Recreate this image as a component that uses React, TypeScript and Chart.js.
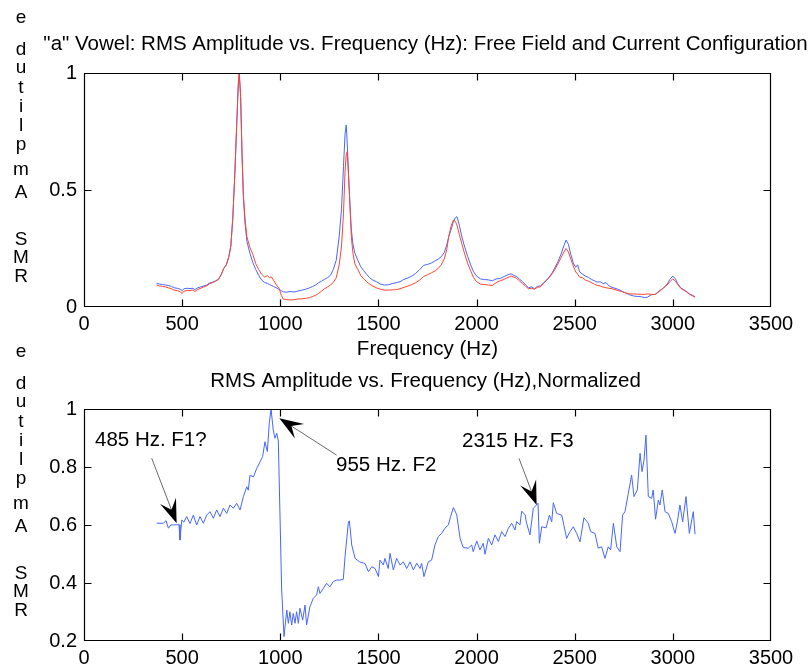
import React, { useEffect, useRef } from "react";
import { Chart, registerables } from "chart.js";

Chart.register(...registerables);

const FONT = "'Liberation Sans', Arial, Helvetica, sans-serif";
const BLUE = "#4666ff";
const RED = "#ff4430";

// ---- Upper panel: RMS amplitude spectra ----
const spectrumFreq = [
  370, 385, 400, 415, 430, 445, 460, 475, 490, 500,
  510, 525, 540, 555, 565, 580, 595, 610, 625, 640,
  655, 670, 685, 700, 712, 725, 738, 748, 758, 768,
  778, 786, 791, 798, 805, 812, 820, 830, 845, 860,
  875, 890, 905, 920, 935, 945, 955, 965, 980, 995,
  1005, 1015, 1030, 1050, 1070, 1090, 1110, 1130, 1150, 1165,
  1180, 1195, 1210, 1225, 1240, 1255, 1270, 1285, 1300, 1312,
  1322, 1330, 1336, 1341, 1348, 1355, 1362, 1370, 1380, 1395,
  1410, 1425, 1440, 1455, 1470, 1490, 1510, 1530, 1550, 1570,
  1590, 1610, 1630, 1650, 1670, 1690, 1710, 1730, 1750, 1770,
  1790, 1805, 1820, 1835, 1848, 1858, 1870, 1882, 1892, 1900,
  1912, 1925, 1940, 1955, 1970, 1985, 2000, 2020, 2040, 2060,
  2080, 2100, 2120, 2140, 2160, 2175, 2190, 2205, 2220, 2235,
  2250, 2265, 2280, 2295, 2310, 2325, 2340, 2355, 2370, 2385,
  2400, 2415, 2430, 2445, 2456, 2468, 2480, 2493, 2505, 2515,
  2525, 2540, 2555, 2570, 2585, 2600, 2615, 2630, 2645, 2660,
  2675, 2690, 2705, 2720, 2740, 2760, 2780, 2800, 2820, 2840,
  2855, 2870, 2890, 2910, 2930, 2950, 2970, 2985, 2999, 3012,
  3025, 3040, 3055, 3070, 3085, 3100, 3113,
];

const freeFieldRms = [
  0.101, 0.098, 0.096, 0.094, 0.092, 0.088, 0.082, 0.080, 0.076, 0.070,
  0.078, 0.080, 0.079, 0.080, 0.074, 0.082, 0.086, 0.090, 0.094, 0.103,
  0.106, 0.112, 0.118, 0.140, 0.165, 0.180, 0.215, 0.260, 0.380, 0.560,
  0.780, 0.950, 1.0, 0.900, 0.650, 0.470, 0.360, 0.280, 0.230, 0.190,
  0.160, 0.135, 0.115, 0.105, 0.100, 0.096, 0.092, 0.088, 0.082, 0.074,
  0.070, 0.065, 0.063, 0.066, 0.064, 0.068, 0.072, 0.076, 0.082, 0.088,
  0.094, 0.104, 0.110, 0.118, 0.125, 0.135, 0.160, 0.200, 0.300, 0.420,
  0.600, 0.740, 0.778, 0.700, 0.560, 0.440, 0.330, 0.270, 0.230, 0.200,
  0.172, 0.155, 0.140, 0.125, 0.116, 0.108, 0.098, 0.094, 0.095, 0.100,
  0.104, 0.108, 0.118, 0.124, 0.132, 0.144, 0.160, 0.178, 0.182, 0.188,
  0.198, 0.205, 0.215, 0.232, 0.265, 0.300, 0.330, 0.365, 0.382, 0.386,
  0.350, 0.300, 0.255, 0.215, 0.180, 0.150, 0.132, 0.120, 0.117, 0.116,
  0.112, 0.120, 0.122, 0.130, 0.138, 0.142, 0.135, 0.130, 0.118, 0.108,
  0.094, 0.082, 0.086, 0.078, 0.088, 0.090, 0.102, 0.114, 0.128, 0.146,
  0.170, 0.195, 0.225, 0.262, 0.286, 0.268, 0.225, 0.187, 0.170, 0.180,
  0.150, 0.140, 0.132, 0.126, 0.118, 0.112, 0.106, 0.108, 0.100, 0.104,
  0.090, 0.084, 0.080, 0.076, 0.068, 0.060, 0.052, 0.047, 0.045, 0.044,
  0.040, 0.042, 0.052, 0.054, 0.068, 0.080, 0.096, 0.118, 0.132, 0.122,
  0.100, 0.082, 0.074, 0.066, 0.056, 0.050, 0.044,
];

const currentConfigRms = [
  0.094, 0.090, 0.088, 0.086, 0.082, 0.078, 0.072, 0.070, 0.065, 0.058,
  0.068, 0.070, 0.070, 0.073, 0.066, 0.075, 0.080, 0.086, 0.090, 0.100,
  0.104, 0.110, 0.118, 0.140, 0.165, 0.180, 0.215, 0.260, 0.380, 0.560,
  0.780, 0.950, 1.0, 0.900, 0.660, 0.480, 0.380, 0.300, 0.255, 0.225,
  0.185, 0.160, 0.140, 0.128, 0.134, 0.126, 0.128, 0.115, 0.095, 0.078,
  0.050, 0.034, 0.032, 0.030, 0.031, 0.034, 0.035, 0.037, 0.040, 0.045,
  0.050, 0.058, 0.068, 0.078, 0.085, 0.094, 0.105, 0.125, 0.180, 0.260,
  0.400, 0.580, 0.650, 0.664, 0.560, 0.430, 0.300, 0.230, 0.185, 0.160,
  0.135, 0.120, 0.108, 0.098, 0.090, 0.082, 0.076, 0.072, 0.072, 0.073,
  0.074, 0.078, 0.084, 0.090, 0.096, 0.104, 0.115, 0.130, 0.138, 0.146,
  0.155, 0.165, 0.180, 0.205, 0.245, 0.300, 0.345, 0.372, 0.366, 0.350,
  0.310, 0.270, 0.225, 0.185, 0.155, 0.125, 0.108, 0.098, 0.096, 0.094,
  0.092, 0.104, 0.112, 0.118, 0.126, 0.132, 0.128, 0.122, 0.110, 0.100,
  0.088, 0.078, 0.080, 0.076, 0.084, 0.086, 0.100, 0.112, 0.126, 0.142,
  0.162, 0.185, 0.210, 0.235, 0.250, 0.235, 0.205, 0.175, 0.150, 0.140,
  0.128, 0.125, 0.115, 0.110, 0.104, 0.098, 0.092, 0.090, 0.085, 0.082,
  0.080, 0.078, 0.074, 0.070, 0.066, 0.060, 0.056, 0.056, 0.055, 0.054,
  0.054, 0.056, 0.054, 0.054, 0.066, 0.080, 0.094, 0.108, 0.120, 0.112,
  0.096, 0.080, 0.072, 0.064, 0.054, 0.048, 0.042,
];

// ---- Lower panel: normalized RMS amplitude ----
const normFreq = [
  370, 387, 404, 418, 430, 442, 455, 472, 484, 489,
  498, 509, 523, 540, 557, 574, 591, 608, 625, 642,
  659, 676, 693, 710, 727, 744, 761, 778, 795, 812,
  829, 837, 846, 863, 880, 897, 910, 922, 934, 944,
  953, 964, 973, 982, 990, 1007, 1019, 1033, 1041, 1049,
  1058, 1066, 1075, 1083, 1092, 1100, 1114, 1126, 1134, 1151,
  1168, 1185, 1194, 1202, 1219, 1236, 1253, 1270, 1287, 1304,
  1321, 1330, 1347, 1352, 1364, 1381, 1404, 1432, 1449, 1466,
  1483, 1500, 1508, 1525, 1533, 1550, 1559, 1576, 1593, 1610,
  1627, 1644, 1661, 1678, 1695, 1712, 1720, 1732, 1754, 1771,
  1788, 1805, 1822, 1839, 1856, 1868, 1882, 1899, 1916, 1932,
  1958, 1975, 1983, 2001, 2017, 2034, 2043, 2060, 2077, 2094,
  2111, 2128, 2145, 2162, 2179, 2196, 2204, 2221, 2230, 2247,
  2255, 2272, 2289, 2306, 2313, 2320, 2332, 2354, 2371, 2383,
  2391, 2408, 2434, 2459, 2476, 2493, 2510, 2527, 2547, 2569,
  2581, 2603, 2620, 2637, 2654, 2671, 2683, 2697, 2714, 2731,
  2744, 2756, 2773, 2790, 2802, 2819, 2833, 2843, 2853, 2863,
  2875, 2892, 2900, 2912, 2926, 2934, 2946, 2960, 2977, 2994,
  3011, 3023, 3036, 3050, 3067, 3084, 3104, 3113,
];

const normRms = [
  0.606, 0.606, 0.606, 0.615, 0.589, 0.600, 0.600, 0.601, 0.601, 0.548,
  0.617, 0.610, 0.629, 0.605, 0.634, 0.600, 0.629, 0.606, 0.634, 0.646,
  0.623, 0.652, 0.629, 0.658, 0.640, 0.669, 0.658, 0.675, 0.652, 0.698,
  0.732, 0.720, 0.772, 0.766, 0.795, 0.818, 0.836, 0.887, 0.853, 0.951,
  1.0, 0.928, 0.899, 0.916, 0.890, 0.376, 0.215, 0.307, 0.261, 0.301,
  0.255, 0.295, 0.261, 0.301, 0.261, 0.313, 0.272, 0.324, 0.255, 0.318,
  0.347, 0.359, 0.387, 0.364, 0.381, 0.399, 0.387, 0.405, 0.410, 0.410,
  0.413, 0.491, 0.611, 0.614, 0.531, 0.485, 0.473, 0.467, 0.439, 0.456,
  0.450, 0.422, 0.479, 0.462, 0.485, 0.450, 0.502, 0.445, 0.485, 0.462,
  0.473, 0.450, 0.473, 0.445, 0.468, 0.450, 0.468, 0.422, 0.473, 0.479,
  0.531, 0.560, 0.571, 0.589, 0.600, 0.630, 0.660, 0.635, 0.554, 0.522,
  0.520, 0.531, 0.508, 0.545, 0.514, 0.537, 0.499, 0.554, 0.531, 0.566,
  0.543, 0.577, 0.560, 0.589, 0.606, 0.583, 0.612, 0.600, 0.648, 0.635,
  0.606, 0.566, 0.658, 0.669, 0.675, 0.537, 0.594, 0.590, 0.634, 0.611,
  0.677, 0.640, 0.634, 0.554, 0.577, 0.594, 0.571, 0.542, 0.625, 0.606,
  0.577, 0.571, 0.520, 0.525, 0.485, 0.525, 0.514, 0.606, 0.525, 0.508,
  0.634, 0.646, 0.709, 0.772, 0.698, 0.721, 0.847, 0.784, 0.824, 0.910,
  0.698, 0.692, 0.721, 0.620, 0.686, 0.669, 0.721, 0.646, 0.640, 0.611,
  0.571, 0.611, 0.669, 0.611, 0.698, 0.571, 0.646, 0.568,
];

const xTicks = [0, 500, 1000, 1500, 2000, 2500, 3000, 3500];
const topYTicks = [0, 0.5, 1];
const bottomYTicks = [0.2, 0.4, 0.6, 0.8, 1];

const topTitle = '"a" Vowel: RMS Amplitude vs. Frequency (Hz): Free Field and Current Configuration';
const bottomTitle = "RMS Amplitude vs. Frequency (Hz),Normalized";
const yTitle = "RMS Amplitude";
const xTitle = "Frequency (Hz)";

const formantNotes = [
  { text: "485 Hz. F1?", at: [56, 0.893], tail: [345, 0.83], tip: [472, 0.606] },
  { text: "955 Hz. F2", at: [1284, 0.807], tail: [1287, 0.841], tip: [995, 0.968] },
  { text: "2315 Hz. F3", at: [1926, 0.89], tail: [2216, 0.83], tip: [2306, 0.669] },
];

// Boxed axes with inward tick marks on all four sides, plus the panel text.
const panelDecor = {
  id: "panelDecor",
  afterDraw(chart: any, _args: any, opts: any) {
    const { ctx, chartArea: a, scales } = chart;
    const xs = scales.x;
    const ys = scales.y;
    const L = Math.round(a.left) + 0.5;
    const R = Math.round(a.right) - 0.5;
    const T = Math.round(a.top) + 0.5;
    const B = Math.round(a.bottom) - 0.5;
    const tick = 7;
    ctx.save();
    ctx.strokeStyle = "#000";
    ctx.lineWidth = 1.2;
    ctx.beginPath();
    ctx.rect(L, T, R - L, B - T);
    for (const t of xs.ticks) {
      const px = Math.round(xs.getPixelForValue(t.value)) + 0.5;
      if (px <= L + 1 || px >= R - 1) continue;
      ctx.moveTo(px, B);
      ctx.lineTo(px, B - tick);
      ctx.moveTo(px, T);
      ctx.lineTo(px, T + tick);
    }
    for (const t of ys.ticks) {
      const py = Math.round(ys.getPixelForValue(t.value)) + 0.5;
      if (py <= T + 1 || py >= B - 1) continue;
      ctx.moveTo(L, py);
      ctx.lineTo(L + tick, py);
      ctx.moveTo(R, py);
      ctx.lineTo(R - tick, py);
    }
    ctx.stroke();

    // title
    ctx.fillStyle = "#000";
    ctx.font = `20.5px ${FONT}`;
    ctx.textAlign = "center";
    ctx.textBaseline = "middle";
    ctx.fillText(opts.title, (a.left + a.right) / 2 - 2, opts.titleY);

    // vertical label written as a stack of letters, read from bottom to top
    const letters = opts.yTitle.split("");
    const baselines = [209, 190, 172, 0, 125, 102, 77, 58, 39, 20, 0, -18, -50];
    ctx.font = `19px ${FONT}`;
    ctx.textBaseline = "alphabetic";
    letters.forEach((ch: string, i: number) => {
      if (ch === " ") return;
      ctx.fillText(ch, 21, a.top + baselines[i] + opts.stackShift);
    });

    // annotations with filled arrowheads
    if (opts.notes) {
      ctx.font = `20.5px ${FONT}`;
      ctx.textAlign = "left";
      ctx.textBaseline = "middle";
      for (const n of opts.notes) {
        ctx.fillStyle = "#000";
        ctx.fillText(n.text, xs.getPixelForValue(n.at[0]), ys.getPixelForValue(n.at[1]));
        const x0 = xs.getPixelForValue(n.tail[0]);
        const y0 = ys.getPixelForValue(n.tail[1]);
        const x1 = xs.getPixelForValue(n.tip[0]);
        const y1 = ys.getPixelForValue(n.tip[1]);
        const dx = x1 - x0;
        const dy = y1 - y0;
        const len = Math.hypot(dx, dy);
        const ux = dx / len;
        const uy = dy / len;
        const nx = -uy;
        const ny = ux;
        const head = 24;
        const half = 8.5;
        ctx.strokeStyle = "#444";
        ctx.lineWidth = 0.8;
        ctx.beginPath();
        ctx.moveTo(x0, y0);
        ctx.lineTo(x1 - ux * head * 0.6, y1 - uy * head * 0.6);
        ctx.stroke();
        ctx.beginPath();
        ctx.moveTo(x1, y1);
        ctx.lineTo(x1 - ux * head + nx * half, y1 - uy * head + ny * half);
        ctx.lineTo(x1 - ux * head * 0.6, y1 - uy * head * 0.6);
        ctx.lineTo(x1 - ux * head - nx * half, y1 - uy * head - ny * half);
        ctx.closePath();
        ctx.fill();
      }
    }
    ctx.restore();
  },
};

function makeAxes(yTicks: number[], yMin: number, yMax: number, xHeight: number, withXTitle: boolean) {
  const tickFont = { family: FONT, size: 20 };
  return {
    x: {
      type: "linear",
      min: 0,
      max: 3500,
      afterBuildTicks: (s: any) => {
        s.ticks = xTicks.map((v) => ({ value: v }));
      },
      afterFit: (s: any) => {
        s.height = xHeight;
      },
      grid: { display: false, drawTicks: false },
      border: { display: false },
      ticks: {
        font: tickFont,
        color: "#000",
        padding: 5,
        maxRotation: 0,
        autoSkip: false,
        callback: (v: any) => String(v),
      },
      title: {
        display: withXTitle,
        text: xTitle,
        color: "#000",
        font: { family: FONT, size: 20.5 },
        padding: 0,
      },
    },
    y: {
      type: "linear",
      min: yMin,
      max: yMax,
      afterBuildTicks: (s: any) => {
        s.ticks = yTicks.map((v) => ({ value: v }));
      },
      afterFit: (s: any) => {
        s.width = 84;
      },
      grid: { display: false, drawTicks: false },
      border: { display: false },
      ticks: {
        font: tickFont,
        color: "#000",
        padding: 7,
        autoSkip: false,
        callback: (v: any) => String(v),
      },
    },
  };
}

export default function App() {
  const topRef = useRef<HTMLCanvasElement>(null);
  const bottomRef = useRef<HTMLCanvasElement>(null);

  useEffect(() => {
    const top = new Chart(topRef.current as HTMLCanvasElement, {
      type: "line",
      data: {
        datasets: [
          {
            label: "Current Configuration",
            data: spectrumFreq.map((f, i) => ({ x: f, y: currentConfigRms[i] })),
            borderColor: RED,
            borderWidth: 1,
            pointRadius: 0,
            tension: 0,
          },
          {
            label: "Free Field",
            data: spectrumFreq.map((f, i) => ({ x: f, y: freeFieldRms[i] })),
            borderColor: BLUE,
            borderWidth: 1,
            pointRadius: 0,
            tension: 0,
          },
        ],
      },
      options: {
        animation: false,
        responsive: false,
        devicePixelRatio: 1,
        layout: { padding: { left: 0, top: 73, right: 40, bottom: 0 } },
        plugins: {
          legend: { display: false },
          tooltip: { enabled: false },
          panelDecor: { title: topTitle, titleY: 44, yTitle, stackShift: 0 },
        } as any,
        scales: makeAxes(topYTicks, 0, 1, 55, true) as any,
      },
      plugins: [panelDecor],
    });

    const bottom = new Chart(bottomRef.current as HTMLCanvasElement, {
      type: "line",
      data: {
        datasets: [
          {
            label: "Normalized",
            data: normFreq.map((f, i) => ({ x: f, y: normRms[i] })),
            borderColor: BLUE,
            borderWidth: 1,
            pointRadius: 0,
            tension: 0,
          },
        ],
      },
      options: {
        animation: false,
        responsive: false,
        devicePixelRatio: 1,
        layout: { padding: { left: 0, top: 75, right: 40, bottom: 0 } },
        plugins: {
          legend: { display: false },
          tooltip: { enabled: false },
          panelDecor: { title: bottomTitle, titleY: 47, yTitle, stackShift: -2, notes: formantNotes },
        } as any,
        scales: makeAxes(bottomYTicks, 0.2, 1, 26, false) as any,
      },
      plugins: [panelDecor],
    });

    return () => {
      top.destroy();
      bottom.destroy();
    };
  }, []);

  return (
    <div style={{ position: "fixed", left: 0, top: 0, width: 811, height: 667, background: "#fff" }}>
      <canvas ref={topRef} width={811} height={362} style={{ position: "absolute", left: 0, top: 0, width: 811, height: 362 }} />
      <canvas ref={bottomRef} width={811} height={333} style={{ position: "absolute", left: 0, top: 334, width: 811, height: 333 }} />
    </div>
  );
}
